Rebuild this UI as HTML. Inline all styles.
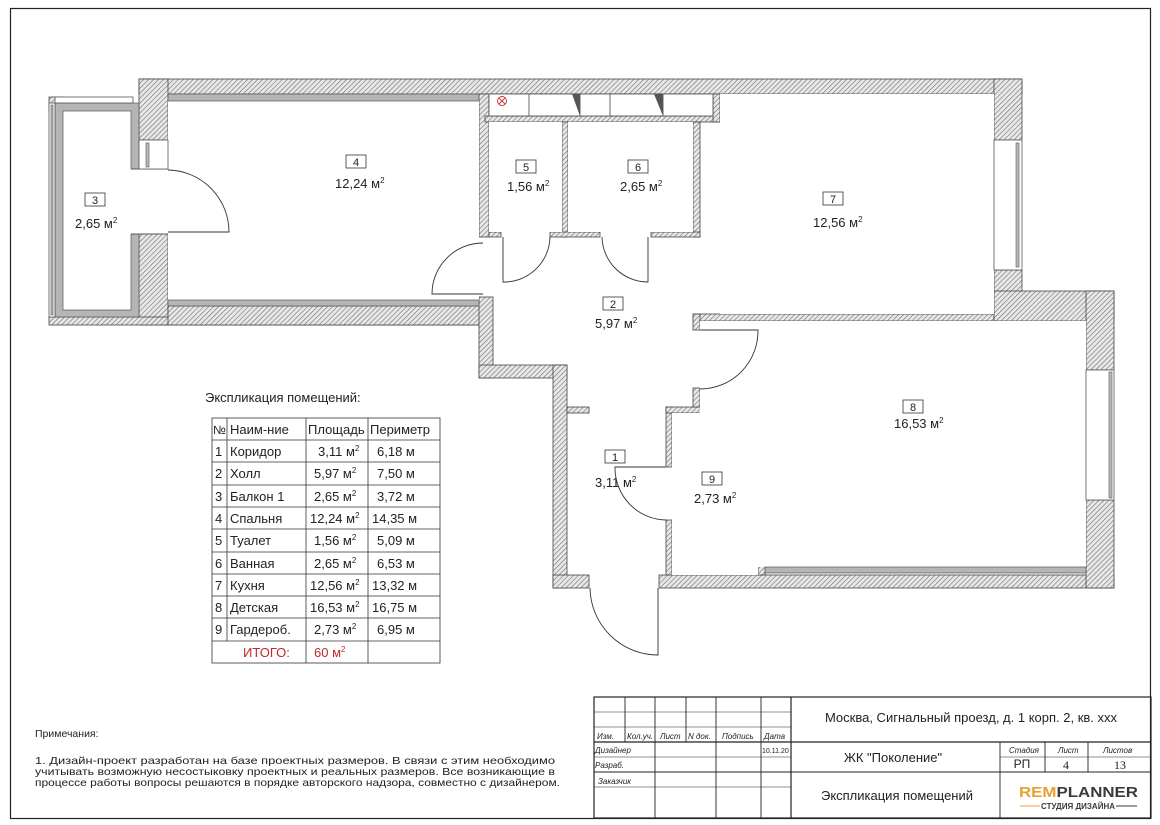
<!DOCTYPE html>
<html><head><meta charset="utf-8"><style>
html,body{margin:0;padding:0;background:#fff;}
svg{display:block;font-family:"Liberation Sans","DejaVu Sans",sans-serif;}
</style></head><body>
<svg width="1160" height="825" viewBox="0 0 1160 825" xmlns="http://www.w3.org/2000/svg">
<defs>
<pattern id="h" patternUnits="userSpaceOnUse" width="3.5" height="3.5" patternTransform="rotate(45)">
<rect width="3.5" height="3.5" fill="#e8e8e8"/><line x1="0" y1="0" x2="0" y2="3.5" stroke="#6f6f6f" stroke-width="1.2"/>
</pattern>
</defs>
<rect x="0" y="0" width="1160" height="825" fill="#fff"/>
<rect x="10.5" y="8.5" width="1140" height="810" fill="none" stroke="#222" stroke-width="1.2"/>

<g fill="url(#h)" stroke="#444" stroke-width="0.8">
<rect x="139" y="79" width="883" height="15"/>
<rect x="139" y="79" width="29" height="61"/>
<rect x="139" y="234" width="29" height="91"/>
<rect x="49" y="317" width="437" height="8"/>
<rect x="168" y="306" width="318" height="19"/>
<rect x="479" y="94" width="10" height="143"/>
<rect x="479" y="297" width="14" height="81"/>
<rect x="479" y="365" width="88" height="13"/>
<rect x="553" y="365" width="14" height="223"/>
<rect x="553" y="575" width="36" height="13"/>
<rect x="659" y="575" width="455" height="13"/>
<rect x="567" y="407" width="22" height="6"/>
<rect x="666" y="407" width="6" height="60"/>
<rect x="666" y="520" width="6" height="55"/>
<rect x="666" y="407" width="99" height="6"/>
<rect x="758" y="407" width="7" height="168"/>
<rect x="693" y="388" width="7" height="19"/>
<rect x="693" y="314" width="301" height="7"/>
<rect x="693" y="314" width="7" height="16"/>
<rect x="994" y="79" width="28" height="61"/>
<rect x="994" y="270" width="28" height="44"/>
<rect x="994" y="291" width="120" height="30"/>
<rect x="1086" y="291" width="28" height="79"/>
<rect x="1086" y="500" width="28" height="88"/>
<rect x="485" y="116" width="235" height="6"/>
<rect x="713" y="94" width="7" height="28"/>
<rect x="562" y="122" width="6" height="115"/>
<rect x="693" y="122" width="7" height="115"/>
<rect x="489" y="232" width="12" height="5"/>
<rect x="550" y="232" width="50" height="5"/>
<rect x="651" y="232" width="49" height="5"/>
<rect x="49" y="97" width="14" height="15"/>
</g>
<g fill="#fff" stroke="none">
<rect x="168" y="101" width="311" height="199"/>
<rect x="489" y="122" width="73" height="110"/>
<rect x="568" y="122" width="125" height="110"/>
<rect x="720" y="94" width="274" height="220"/>
<rect x="700" y="321" width="386" height="246"/>
<rect x="672" y="413" width="86" height="162"/>
</g>
<g fill="#b5b5b5" stroke="#555" stroke-width="0.7">
<rect x="168" y="94" width="311" height="7"/>
<rect x="168" y="300" width="311" height="6"/>
<rect x="765" y="567" width="321" height="6"/>
<rect x="55" y="103" width="84" height="214"/>
</g>
<rect x="63" y="111" width="68" height="199" fill="#fff" stroke="#555" stroke-width="0.7"/>
<rect x="130" y="169" width="39" height="65" fill="#fff"/>
<line x1="131" y1="169" x2="168" y2="169" stroke="#555"/>
<line x1="131" y1="234" x2="168" y2="234" stroke="#555"/>
<g fill="#fff" stroke="#555" stroke-width="0.8">
<rect x="49" y="103" width="6" height="214"/>
<rect x="55" y="97" width="78" height="6"/>
<rect x="139" y="140" width="29" height="29"/>
<rect x="994" y="140" width="28" height="130"/>
<rect x="1086" y="370" width="28" height="130"/>
</g>
<g fill="#bbb" stroke="#555" stroke-width="0.6">
<rect x="146" y="143" width="3" height="24"/>
<rect x="1016" y="143" width="3" height="124"/>
<rect x="1109" y="372" width="3" height="126"/>
<rect x="51" y="105" width="2" height="210"/>
</g>
<rect x="489" y="94" width="224" height="22" fill="#fff" stroke="#444" stroke-width="0.8"/>
<rect x="529" y="94" width="51" height="22" fill="#fff" stroke="#444" stroke-width="0.8"/>
<rect x="610" y="94" width="53" height="22" fill="#fff" stroke="#444" stroke-width="0.8"/>
<polygon points="572,94 580,94 580,116" fill="#555"/>
<polygon points="654,94 663,94 663,116" fill="#555"/>
<circle cx="502" cy="101" r="4.5" fill="none" stroke="#c33" stroke-width="0.9"/>
<path d="M499,98 L505,104 M505,98 L499,104" stroke="#c33" stroke-width="0.9"/>
<g fill="none" stroke="#333" stroke-width="0.9">
<path d="M168,170 A62,62 0 0 1 229,232 L168,232"/>
<path d="M483,243 A51,51 0 0 0 432,294 L483,294"/>
<path d="M503,237 L503,282 A46,46 0 0 0 550,237"/>
<path d="M648,237 L648,282 A46,46 0 0 1 602,237"/>
<path d="M700,330 L758,330 A58,58 0 0 1 700,389"/>
<path d="M666,467 L615,467 A52,52 0 0 0 666,520"/>
<path d="M658,588 L658,655 A68,68 0 0 1 590,588"/>
</g>
<g font-size="13" fill="#222" stroke="none">
<g fill="none" stroke="#333" stroke-width="0.8">
<rect x="85" y="193" width="20" height="13"/><rect x="346" y="155" width="20" height="13"/>
<rect x="516" y="160" width="20" height="13"/><rect x="628" y="160" width="20" height="13"/>
<rect x="823" y="192" width="20" height="13"/><rect x="603" y="297" width="20" height="13"/>
<rect x="903" y="400" width="20" height="13"/><rect x="605" y="450" width="20" height="13"/>
<rect x="702" y="472" width="20" height="13"/>
</g>
<g text-anchor="middle" font-size="11">
<text x="95" y="204">3</text><text x="356" y="166">4</text><text x="526" y="171">5</text>
<text x="638" y="171">6</text><text x="833" y="203">7</text><text x="613" y="308">2</text>
<text x="913" y="411">8</text><text x="615" y="461">1</text><text x="712" y="483">9</text>
</g>
<text x="75" y="228">2,65 м<tspan font-size="8" dy="-5">2</tspan></text>
<text x="335" y="188">12,24 м<tspan font-size="8" dy="-5">2</tspan></text>
<text x="507" y="191">1,56 м<tspan font-size="8" dy="-5">2</tspan></text>
<text x="620" y="191">2,65 м<tspan font-size="8" dy="-5">2</tspan></text>
<text x="813" y="227">12,56 м<tspan font-size="8" dy="-5">2</tspan></text>
<text x="595" y="328">5,97 м<tspan font-size="8" dy="-5">2</tspan></text>
<text x="894" y="428">16,53 м<tspan font-size="8" dy="-5">2</tspan></text>
<text x="595" y="487">3,11 м<tspan font-size="8" dy="-5">2</tspan></text>
<text x="694" y="503">2,73 м<tspan font-size="8" dy="-5">2</tspan></text>
</g>
<text x="205" y="402" font-size="13" fill="#222">Экспликация помещений:</text>
<g stroke="#333" stroke-width="0.8" fill="none">
<rect x="212" y="418" width="228" height="245"/>
<line x1="227" y1="418" x2="227" y2="641"/>
<line x1="306" y1="418" x2="306" y2="663"/>
<line x1="368" y1="418" x2="368" y2="663"/>
<line x1="212" y1="440" x2="440" y2="440"/><line x1="212" y1="462" x2="440" y2="462"/>
<line x1="212" y1="485" x2="440" y2="485"/><line x1="212" y1="507" x2="440" y2="507"/>
<line x1="212" y1="529" x2="440" y2="529"/><line x1="212" y1="552" x2="440" y2="552"/>
<line x1="212" y1="574" x2="440" y2="574"/><line x1="212" y1="596" x2="440" y2="596"/>
<line x1="212" y1="618" x2="440" y2="618"/><line x1="212" y1="641" x2="440" y2="641"/>
</g>
<g font-size="13" fill="#222">
<text x="213" y="434" font-size="12">№</text><text x="230" y="434">Наим-ние</text><text x="308" y="434">Площадь</text><text x="370" y="434">Периметр</text>
<text x="215" y="456">1</text><text x="230" y="456">Коридор</text><text x="318" y="456">3,11 м<tspan font-size="8" dy="-5">2</tspan></text><text x="377" y="456">6,18 м</text>
<text x="215" y="478">2</text><text x="230" y="478">Холл</text><text x="314" y="478">5,97 м<tspan font-size="8" dy="-5">2</tspan></text><text x="377" y="478">7,50 м</text>
<text x="215" y="501">3</text><text x="230" y="501">Балкон 1</text><text x="314" y="501">2,65 м<tspan font-size="8" dy="-5">2</tspan></text><text x="377" y="501">3,72 м</text>
<text x="215" y="523">4</text><text x="230" y="523">Спальня</text><text x="310" y="523">12,24 м<tspan font-size="8" dy="-5">2</tspan></text><text x="372" y="523">14,35 м</text>
<text x="215" y="545">5</text><text x="230" y="545">Туалет</text><text x="314" y="545">1,56 м<tspan font-size="8" dy="-5">2</tspan></text><text x="377" y="545">5,09 м</text>
<text x="215" y="568">6</text><text x="230" y="568">Ванная</text><text x="314" y="568">2,65 м<tspan font-size="8" dy="-5">2</tspan></text><text x="377" y="568">6,53 м</text>
<text x="215" y="590">7</text><text x="230" y="590">Кухня</text><text x="310" y="590">12,56 м<tspan font-size="8" dy="-5">2</tspan></text><text x="372" y="590">13,32 м</text>
<text x="215" y="612">8</text><text x="230" y="612">Детская</text><text x="310" y="612">16,53 м<tspan font-size="8" dy="-5">2</tspan></text><text x="372" y="612">16,75 м</text>
<text x="215" y="634">9</text><text x="230" y="634">Гардероб.</text><text x="314" y="634">2,73 м<tspan font-size="8" dy="-5">2</tspan></text><text x="377" y="634">6,95 м</text>
<text x="243" y="657" fill="#c0282d">ИТОГО:</text><text x="314" y="657" fill="#c0282d">60 м<tspan font-size="8" dy="-5">2</tspan></text>
</g>
<g font-size="10.5" fill="#222">
<text x="35" y="737">Примечания:</text>
<text x="35" y="764" textLength="520" lengthAdjust="spacingAndGlyphs">1. Дизайн-проект разработан на базе проектных размеров. В связи с этим необходимо</text>
<text x="35" y="775" textLength="520" lengthAdjust="spacingAndGlyphs">учитывать возможную несостыковку проектных и реальных размеров. Все возникающие в</text>
<text x="35" y="786" textLength="525" lengthAdjust="spacingAndGlyphs">процессе работы вопросы решаются в порядке авторского надзора, совместно с дизайнером.</text>
</g>
<g stroke="#222" stroke-width="0.9" fill="none">
<rect x="594" y="697" width="557" height="121" stroke-width="1.2"/>
<line x1="625" y1="697" x2="625" y2="742"/><line x1="655" y1="697" x2="655" y2="818"/>
<line x1="686" y1="697" x2="686" y2="742"/><line x1="716" y1="697" x2="716" y2="818"/>
<line x1="761" y1="697" x2="761" y2="818"/><line x1="791" y1="697" x2="791" y2="818" stroke-width="1.2"/>
<line x1="594" y1="712" x2="791" y2="712" stroke-width="0.6"/><line x1="594" y1="727" x2="791" y2="727" stroke-width="0.6"/>
<line x1="594" y1="742" x2="1151" y2="742" stroke-width="1.2"/>
<line x1="594" y1="757" x2="791" y2="757" stroke-width="0.6"/><line x1="594" y1="772" x2="1151" y2="772"/>
<line x1="594" y1="787" x2="791" y2="787" stroke-width="0.6"/>
<line x1="1000" y1="742" x2="1000" y2="818"/><line x1="1045" y1="742" x2="1045" y2="772"/><line x1="1088" y1="742" x2="1088" y2="772"/>
<line x1="1000" y1="757" x2="1151" y2="757" stroke-width="0.6"/>
</g>
<g font-size="8" fill="#222" font-style="italic">
<text x="597" y="739">Изм.</text><text x="627" y="739">Кол.уч.</text><text x="660" y="739">Лист</text><text x="688" y="739">N док.</text><text x="722" y="739">Подпись</text><text x="764" y="739">Дата</text>
<text x="595" y="753">Дизайнер</text><text x="595" y="768">Разраб.</text><text x="598" y="784">Заказчик</text>
<text x="1009" y="753">Стадия</text><text x="1058" y="753">Лист</text><text x="1103" y="753">Листов</text>
</g>
<text x="762" y="753" font-size="7" fill="#222">10.11.20</text>
<g fill="#222">
<text x="971" y="722" font-size="13" text-anchor="middle">Москва, Сигнальный проезд, д. 1 корп. 2, кв. ххх</text>
<text x="893" y="762" font-size="13" text-anchor="middle">ЖК "Поколение"</text>
<text x="897" y="800" font-size="13" text-anchor="middle">Экспликация помещений</text>
<text x="1022" y="768" font-size="12" text-anchor="middle">РП</text>
<text x="1066" y="769" font-size="12" text-anchor="middle" font-family="Liberation Serif,serif">4</text>
<text x="1120" y="769" font-size="12" text-anchor="middle" font-family="Liberation Serif,serif">13</text>
<text x="1019" y="797" font-size="15" font-weight="bold" textLength="119" lengthAdjust="spacingAndGlyphs"><tspan fill="#e8a030">REM</tspan><tspan fill="#3a3a3a">PLANNER</tspan></text>
<text x="1078" y="809" font-size="8" font-weight="bold" fill="#3a3a3a" text-anchor="middle">СТУДИЯ ДИЗАЙНА</text>
</g>
<line x1="1020" y1="806" x2="1040" y2="806" stroke="#e8a030" stroke-width="1"/>
<line x1="1116" y1="806" x2="1137" y2="806" stroke="#3a3a3a" stroke-width="1"/>
</svg>
</body></html>
